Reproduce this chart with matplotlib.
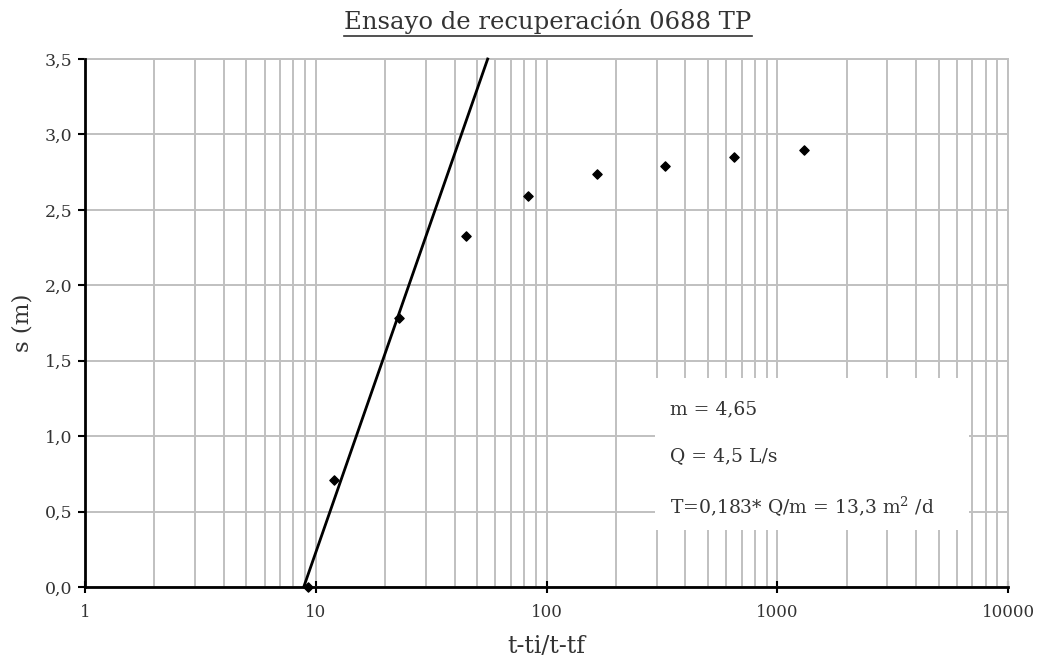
import matplotlib
matplotlib.use("Agg")
import matplotlib.pyplot as plt
from matplotlib.ticker import FuncFormatter, LogLocator, FixedLocator
from matplotlib.lines import Line2D
from matplotlib.patches import Rectangle

# datos del ensayo de recuperacion
ratio = [9.3, 12, 23, 45, 83, 165, 327, 651, 1309]
descenso = [0.0, 0.71, 1.78, 2.33, 2.59, 2.74, 2.79, 2.85, 2.90]

# recta de ajuste (Jacob)
recta_x = [8.87, 55.6]
recta_y = [0.0, 3.5]

y_ticks = [0, 0.5, 1.0, 1.5, 2.0, 2.5, 3.0, 3.5]
x_ticks = [1, 10, 100, 1000, 10000]

textos = ["m = 4,65", "Q = 4,5 L/s", "T=0,183* Q/m = 13,3 m$^2$ /d"]

plt.rcParams['font.family'] = ['DejaVu Serif']
plt.rcParams['mathtext.fontset'] = 'dejavuserif'
gris = "#333333"
grid_col = "#c0c0c0"

fig = plt.figure(figsize=(10.39, 6.59), dpi=100)
ax = fig.add_axes([85 / 1039, 1 - 587 / 659, 923 / 1039, 528 / 659])

ax.set_xscale("log")
ax.set_xlim(1, 10000)
ax.set_ylim(0, 3.5)

ax.xaxis.set_major_locator(FixedLocator(x_ticks))
ax.xaxis.set_minor_locator(LogLocator(base=10, subs=range(2, 10)))
ax.xaxis.set_major_formatter(FuncFormatter(lambda v, p: "%d" % v))
ax.xaxis.set_minor_formatter(FuncFormatter(lambda v, p: ""))
ax.yaxis.set_major_locator(FixedLocator(y_ticks))
ax.yaxis.set_major_formatter(FuncFormatter(lambda v, p: ("%.1f" % v).replace(".", ",")))

ax.grid(True, which="both", axis="x", color=grid_col, lw=1.4, zorder=0)
ax.grid(True, which="major", axis="y", color=grid_col, lw=1.4, zorder=0)

for s in ["top", "right"]:
    ax.spines[s].set_color(grid_col)
    ax.spines[s].set_linewidth(1.4)
for s in ["left", "bottom"]:
    ax.spines[s].set_color("black")
    ax.spines[s].set_linewidth(2)
    ax.spines[s].set_zorder(5)

ax.tick_params(axis="y", which="major", direction="out", length=5, width=1.5,
               labelsize=12.5, labelcolor=gris, pad=4)
ax.tick_params(axis="x", which="major", direction="inout", length=8, width=1.5,
               labelsize=12, labelcolor=gris, pad=8)
ax.tick_params(axis="x", which="minor", length=0)

# caja de texto blanca
ax.add_patch(Rectangle((0.6176, 0.108), 0.34, 0.288, transform=ax.transAxes,
                       facecolor="white", edgecolor="none", zorder=2))
for t, yy in zip(textos, [0.337, 0.248, 0.153]):
    ax.text(0.634, yy, t, transform=ax.transAxes, fontsize=13.5, color=gris,
            va="center", ha="left", zorder=3)

ax.plot(recta_x, recta_y, color="black", lw=2, zorder=4, clip_on=False)
ax.scatter(ratio, descenso, marker="D", s=22, color="black", zorder=6, clip_on=False)

ax.set_xlabel("t-ti/t-tf", fontsize=17, color=gris, labelpad=10)
ax.set_ylabel("s (m)", fontsize=16.5, color=gris, labelpad=8)

titulo = fig.text(548 / 1039, 1 - 22 / 659, "Ensayo de recuperación 0688 TP",
                  ha="center", va="center", fontsize=17.5, color=gris)

fig.canvas.draw()
bb = titulo.get_window_extent().transformed(fig.transFigure.inverted())
fig.add_artist(Line2D([bb.x0, bb.x1], [bb.y0 - 0.003, bb.y0 - 0.003],
                      transform=fig.transFigure, color=gris, lw=1.2))

plt.savefig("out.png", dpi=100)
